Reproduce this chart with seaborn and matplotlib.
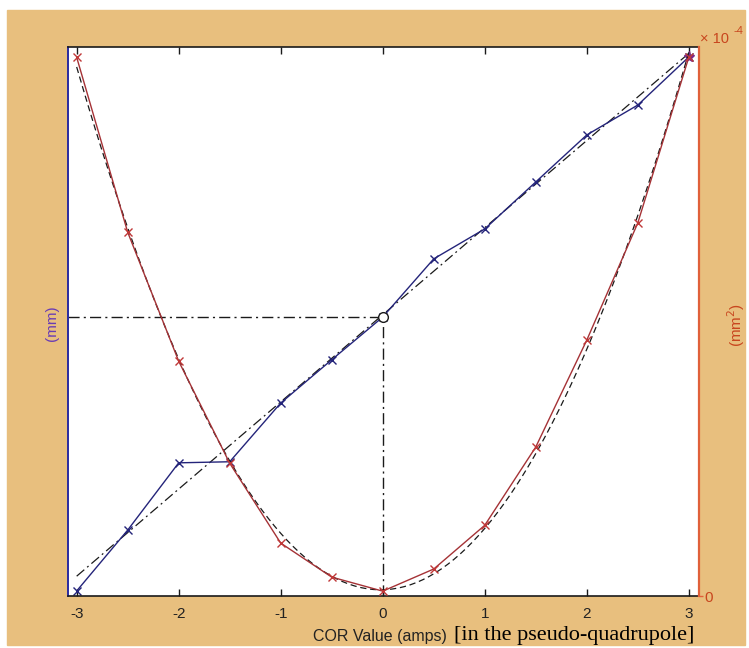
import numpy as np
import pandas as pd
import seaborn as sns
import matplotlib.pyplot as plt
from matplotlib.patches import Rectangle

# values
cor_amps = [-3, -2.5, -2, -1.5, -1, -0.5, 0, 0.5, 1, 1.5, 2, 2.5, 3]
# left axis (mm), no scale printed in the original
position_mm = [0.000, 0.114, 0.240, 0.242, 0.352, 0.433, 0.513,
               0.622, 0.678, 0.766, 0.854, 0.910, 1.000]
# right axis (mm^2), in units of 1e-4
spread_mm2 = [9.98, 6.74, 4.35, 2.46, 0.98, 0.35, 0.09,
              0.50, 1.31, 2.76, 4.74, 6.91, 9.98]
xtick_vals = [-3, -2, -1, 0, 1, 2, 3]
xtick_labels = ["-3", "-2", "-1", "0", "1", "2", "3"]

df = pd.DataFrame({"cor": cor_amps, "pos": position_mm, "spread": spread_mm2})

sns.set_theme(style="white")
plt.rcParams['font.family'] = ['Liberation Sans', 'DejaVu Sans']

tan = "#E8BF7E"
blue = "#24247A"
red = "#A53236"
blue_axis = "#2A2AA0"
red_axis = "#E0603A"
red_text = "#C8461E"

fig = plt.figure(figsize=(7.49, 6.48), dpi=100, facecolor="white")
fig.add_artist(Rectangle((7/749, 3/648), 738/749, 635/648,
                         transform=fig.transFigure, color=tan, zorder=0))

ax = fig.add_axes([68/749, 52/648, 631/749, 549/648])
ax.set_facecolor("white")
ax2 = ax.twinx()

# fitted lines
sns.regplot(data=df, x="cor", y="pos", order=1, scatter=False, ci=None, ax=ax,
            line_kws=dict(color="k", lw=0.9, dashes=(8, 3, 1.5, 3)))
sns.regplot(data=df, x="cor", y="spread", order=2, scatter=False, ci=None, ax=ax2,
            line_kws=dict(color="k", lw=0.9, dashes=(5, 3)))

# measured data
sns.lineplot(data=df, x="cor", y="pos", ax=ax, color=blue, lw=1.0,
             marker="x", markersize=6, mew=1.0, mec=blue)
sns.lineplot(data=df, x="cor", y="spread", ax=ax2, color=red, lw=1.0,
             marker="x", markersize=6, mew=1.0, mec="#C03838")

ax.set_xlim(-3.085, 3.1)
ax.set_ylim(-0.0094, 1.0187)
ax2.set_ylim(0, 10.17)

# crosshair at COR = 0
y0 = position_mm[cor_amps.index(0)]
ax.plot([ax.get_xlim()[0], 0], [y0, y0], color="k", lw=1.0, dashes=(8, 3, 1.5, 3))
ax.plot([0, 0], [ax.get_ylim()[0], y0], color="k", lw=1.0, dashes=(8, 3, 1.5, 3))
ax.plot(0, y0, marker="o", mfc="white", mec="k", ms=7, mew=1.0)
ax.plot(cor_amps[-1], position_mm[-1], marker="*", color="#7A2A8A", ms=8)

ax.set_xticks(xtick_vals)
ax.set_xticklabels(xtick_labels, fontsize=11, color="#222222")
ax.tick_params(axis="x", direction="in", top=True, bottom=True, length=5,
               width=1, color="k", pad=8)
ax.set_yticks([])
ax2.set_yticks([0])
ax2.set_yticklabels(["0"], fontsize=11)
ax2.tick_params(axis="y", direction="out", length=3, width=1, color=red_axis,
                labelcolor=red_text, pad=1)
ax.set_xlabel("")
ax.set_ylabel("")
ax2.set_xlabel("")
ax2.set_ylabel("")

for s in ["top", "bottom"]:
    ax.spines[s].set_color("k")
    ax.spines[s].set_linewidth(1.2)
ax.spines["left"].set_color(blue_axis)
ax.spines["left"].set_linewidth(1.4)
ax.spines["right"].set_visible(False)
for s in ["left", "top", "bottom"]:
    ax2.spines[s].set_visible(False)
ax2.spines["right"].set_color(red_axis)
ax2.spines["right"].set_linewidth(1.6)

# labels
fig.text(52/749, 1 - 323/648, "(mm)", rotation=90, color="#6A3CB4",
         fontsize=11, ha="center", va="center")
fig.text(736/749, 1 - 325/648, "(mm$^2$)", rotation=90, color=red_text,
         fontsize=11, ha="center", va="center")
fig.text(700/749, 1 - 43/648, "× 10", color=red_text, fontsize=10.5,
         ha="left", va="baseline")
fig.text(733/749, 1 - 34/648, "-4", color=red_text, fontsize=8,
         ha="left", va="baseline")
fig.text(313/749, 1 - 641/648, "COR Value (amps)", color="#222222",
         fontsize=11.5, ha="left", va="baseline")
fig.text(454/749, 1 - 640/648, "[in the pseudo-quadrupole]",
         family=["Liberation Serif", "DejaVu Serif"], color="black",
         fontsize=16, ha="left", va="baseline")

fig.savefig("out.png", dpi=100, facecolor=fig.get_facecolor())
